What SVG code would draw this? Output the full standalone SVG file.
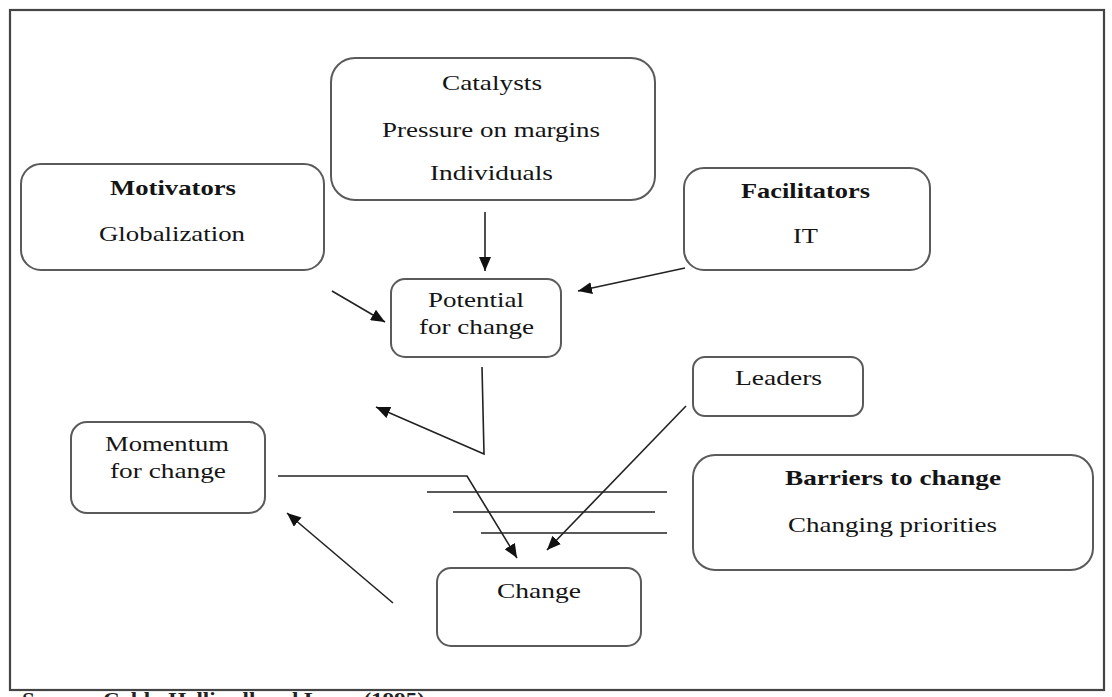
<svg xmlns="http://www.w3.org/2000/svg" width="1112" height="697" viewBox="0 0 1112 697">
  <style>
    .box { fill: #fff; stroke: #5a5a5a; stroke-width: 2; }
    .t { font-family: "Liberation Serif", "Times New Roman", serif; font-size: 22px; fill: #141414; text-anchor: middle; }
    .b { font-weight: bold; }
    .ln { stroke: #222; stroke-width: 1.6; fill: none; }
    .arr { stroke: #222; stroke-width: 1.6; fill: none; marker-end: url(#head); }
  </style>
  <defs>
    <marker id="head" markerUnits="userSpaceOnUse" markerWidth="16" markerHeight="12" refX="14" refY="6" orient="auto">
      <path d="M0,0 L14,6 L0,12 Z" fill="#111"/>
    </marker>
  </defs>

  <rect width="1112" height="697" fill="#fff"/>
  <!-- outer frame -->
  <rect x="10" y="10" width="1094" height="680" fill="none" stroke="#444" stroke-width="2.2"/>

  <g id="catalysts">
    <rect class="box" x="331" y="58" width="324" height="142" rx="24"/>
    <text class="t" x="492" y="90" textLength="100" lengthAdjust="spacingAndGlyphs">Catalysts</text>
    <text class="t" x="491" y="137" textLength="218" lengthAdjust="spacingAndGlyphs">Pressure on margins</text>
    <text class="t" x="491.5" y="180" textLength="123" lengthAdjust="spacingAndGlyphs">Individuals</text>
  </g>

  <g id="motivators">
    <rect class="box" x="21" y="164" width="303" height="106" rx="20"/>
    <text class="t b" x="173" y="195" textLength="126" lengthAdjust="spacingAndGlyphs">Motivators</text>
    <text class="t" x="172" y="241" textLength="146" lengthAdjust="spacingAndGlyphs">Globalization</text>
  </g>

  <g id="facilitators">
    <rect class="box" x="684" y="168" width="246" height="102" rx="20"/>
    <text class="t b" x="805.5" y="198" textLength="129" lengthAdjust="spacingAndGlyphs">Facilitators</text>
    <text class="t" x="805.5" y="243" textLength="25" lengthAdjust="spacingAndGlyphs">IT</text>
  </g>

  <g id="potential">
    <rect class="box" x="391" y="279" width="170" height="78" rx="14"/>
    <text class="t" x="476" y="307" textLength="96" lengthAdjust="spacingAndGlyphs">Potential</text>
    <text class="t" x="476.5" y="334" textLength="115" lengthAdjust="spacingAndGlyphs">for change</text>
  </g>

  <g id="leaders">
    <rect class="box" x="693" y="357" width="170" height="59" rx="12"/>
    <text class="t" x="778.5" y="385" textLength="87" lengthAdjust="spacingAndGlyphs">Leaders</text>
  </g>

  <g id="momentum">
    <rect class="box" x="71" y="422" width="194" height="91" rx="16"/>
    <text class="t" x="167" y="451" textLength="124" lengthAdjust="spacingAndGlyphs">Momentum</text>
    <text class="t" x="168" y="478" textLength="116" lengthAdjust="spacingAndGlyphs">for change</text>
  </g>

  <g id="barriers">
    <rect class="box" x="693" y="455" width="400" height="115" rx="22"/>
    <text class="t b" x="893" y="485" textLength="216" lengthAdjust="spacingAndGlyphs">Barriers to change</text>
    <text class="t" x="892.5" y="532" textLength="209" lengthAdjust="spacingAndGlyphs">Changing priorities</text>
  </g>

  <g id="change">
    <rect class="box" x="437" y="568" width="204" height="78" rx="14"/>
    <text class="t" x="539" y="598" textLength="84" lengthAdjust="spacingAndGlyphs">Change</text>
  </g>

  <g id="connectors">
    <line class="arr" x1="485" y1="212" x2="485" y2="271"/>
    <line class="arr" x1="332" y1="291" x2="385" y2="322"/>
    <line class="arr" x1="685" y1="268" x2="578" y2="291"/>
    <polyline class="arr" points="482,367 484,454 376,407"/>
    <polyline class="arr" points="278,476 467,476 517,558"/>
    <line class="arr" x1="686" y1="406" x2="547" y2="550"/>
    <line class="arr" x1="393" y1="603" x2="287" y2="513"/>
    <!-- barrier strokes -->
    <line class="ln" x1="427" y1="492" x2="667" y2="492"/>
    <line class="ln" x1="453" y1="512" x2="655" y2="512"/>
    <line class="ln" x1="481" y1="533" x2="667" y2="533"/>
  </g>

  <text x="22" y="707" font-family="Liberation Serif, serif" font-size="21" font-weight="bold" fill="#222" textLength="403" lengthAdjust="spacingAndGlyphs">Source: Cobb, Helliwell and Lowe (1995)</text>
</svg>
